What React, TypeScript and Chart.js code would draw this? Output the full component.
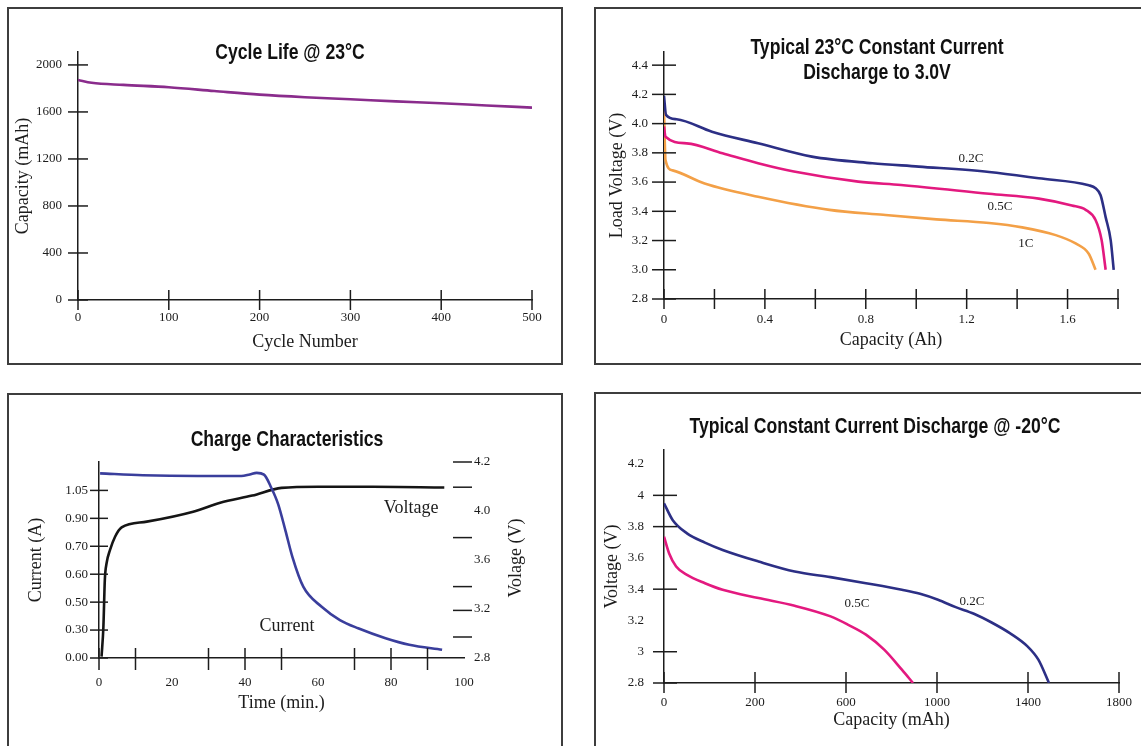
import React, { useEffect, useRef } from "react";
import { Chart, registerables } from "chart.js";

Chart.register(...registerables);

// ---------------- data ----------------
// Panel 1: Cycle life @ 23°C
const cycleNumber = [0, 15, 50, 100, 150, 200, 250, 300, 350, 400, 450, 500];
const cycleCapacity = [1872, 1848, 1830, 1810, 1778, 1747, 1725, 1708, 1690, 1674, 1655, 1637];
const cycleYTicks = [0, 400, 800, 1200, 1600, 2000];
const cycleXTicks = [0, 100, 200, 300, 400, 500];

// Panel 2: Typical 23°C constant current discharge to 3.0V
const dis02CCap = [0, 0.008, 0.05, 0.19, 0.373, 0.586, 0.826, 1.01, 1.289, 1.486, 1.684, 1.711, 1.731, 1.751, 1.771, 1.783];
const dis02CVolt = [4.19, 4.06, 4.03, 3.945, 3.865, 3.774, 3.729, 3.706, 3.669, 3.626, 3.578, 3.558, 3.51, 3.36, 3.203, 3.0];
const dis05CCap = [0, 0.006, 0.09, 0.232, 0.373, 0.515, 0.77, 0.94, 1.289, 1.486, 1.617, 1.672, 1.711, 1.735, 1.751];
const dis05CVolt = [3.98, 3.91, 3.865, 3.797, 3.729, 3.672, 3.603, 3.58, 3.52, 3.487, 3.44, 3.41, 3.34, 3.203, 3.0];
const dis1CCap = [0, 0.006, 0.034, 0.161, 0.373, 0.656, 0.869, 1.08, 1.289, 1.42, 1.553, 1.632, 1.684, 1.711];
const dis1CVolt = [4.09, 3.75, 3.68, 3.59, 3.5, 3.41, 3.376, 3.345, 3.32, 3.29, 3.237, 3.18, 3.11, 3.0];
const disYTicks = [2.8, 3.0, 3.2, 3.4, 3.6, 3.8, 4.0, 4.2, 4.4];
const disXLabelTicks = [0, 0.4, 0.8, 1.2, 1.6];
const disXLabels = ["0", "0.4", "0.8", "1.2", "1.6"];
const disXMarks = [0, 0.2, 0.4, 0.6, 0.8, 1.0, 1.2, 1.4, 1.6, 1.8];

// Panel 3: Charge characteristics
const chargeTimeCurrent = [0.3, 12, 27, 39, 41.3, 43.2, 45.2, 47.2, 49.1, 51.1, 53, 56, 61, 66, 71, 78.5, 85, 94];
const chargeCurrent = [1.157, 1.145, 1.14, 1.14, 1.15, 1.16, 1.149, 1.067, 0.963, 0.797, 0.632, 0.445, 0.321, 0.238, 0.186, 0.124, 0.083, 0.052];
const chargeTimeVoltage = [0.7, 1.2, 1.6, 2.1, 3.0, 4.4, 6.2, 13.1, 25.8, 33.2, 42, 50, 60, 75, 94.6];
const chargeVoltage = [2.81, 3.02, 3.36, 3.48, 3.57, 3.666, 3.733, 3.774, 3.845, 3.909, 3.96, 4.015, 4.023, 4.023, 4.018];
const chargeCurrentTickPos = [0, 0.175, 0.35, 0.525, 0.7, 0.875, 1.05];
const chargeCurrentTickLabels = ["0.00", "0.30", "0.50", "0.60", "0.70", "0.90", "1.05"];
const chargeVoltTickPos = [2.8, 3.15, 3.5, 3.85, 4.2];
const chargeVoltTickLabels = ["2.8", "3.2", "3.6", "4.0", "4.2"];
const chargeVoltDashes = [2.95, 3.14, 3.31, 3.66, 4.02, 4.2];
const chargeTimeLabelTicks = [0, 20, 40, 60, 80, 100];
const chargeTimeMarks = [0, 10, 30, 40, 50, 70, 80, 90];

// Panel 4: Typical constant current discharge @ -20°C
const cold02CCap = [0, 34, 91, 162, 232, 374, 517, 659, 799, 941, 1013, 1084, 1154, 1226, 1296, 1368, 1438, 1481, 1523];
const cold02CVolt = [3.949, 3.843, 3.757, 3.698, 3.651, 3.577, 3.513, 3.477, 3.438, 3.396, 3.37, 3.332, 3.285, 3.243, 3.187, 3.119, 3.034, 2.949, 2.8];
const cold05CCap = [0, 20, 48, 91, 162, 232, 374, 517, 659, 729, 799, 871, 941, 985];
const cold05CVolt = [3.736, 3.63, 3.545, 3.491, 3.438, 3.396, 3.343, 3.294, 3.226, 3.172, 3.109, 3.013, 2.885, 2.8];
const coldXTickPos = [0, 360, 720, 1080, 1440, 1800];
const coldXTickLabels = ["0", "200", "600", "1000", "1400", "1800"];
const coldYTicks = [2.8, 3.0, 3.2, 3.4, 3.6, 3.8, 4.0, 4.2];
const coldYMarks = [2.8, 3.0, 3.4, 3.8, 4.0];

// ---------------- styling ----------------
const SERIF = "'Liberation Serif', 'Times New Roman', serif";
const SANS = "'Liberation Sans', Arial, sans-serif";
const INK = "#1c1c1c";
const NAVY = "#2c2f85";
const MAGENTA = "#e3197f";
const ORANGE = "#f3a047";
const PURPLE = "#8a2c8c";
const BLUE = "#3a3e9c";
const BLACK = "#151515";

type Panel = { x: number; y: number; w: number; h: number };
type Area = { left: number; top: number; right: number; bottom: number };
type Mark = { scale: string; values: number[]; inner: number; outer: number };
type Note = { text: string; x: number; y: number; yScale?: string; size: number };
type Decor = {
  panel: Panel;
  title: string[];
  titleX: number;
  titleY: number;
  titleGap: number;
  titleSize: number;
  marks: Mark[];
  notes: Note[];
  sideTitle?: { text: string; x: number; y: number };
};

const xy = (xs: number[], ys: number[]) => xs.map((x, i) => ({ x, y: ys[i] }));

function lineDs(label: string, xs: number[], ys: number[], color: string, yAxisID = "y") {
  return {
    label,
    data: xy(xs, ys),
    borderColor: color,
    backgroundColor: color,
    borderWidth: 2.6,
    pointRadius: 0,
    cubicInterpolationMode: "monotone",
    fill: false,
    yAxisID,
  };
}

function decorPlugin(d: Decor) {
  return {
    id: "decor",
    afterDraw(chart: any) {
      const { ctx, chartArea: a } = chart;
      ctx.save();
      ctx.strokeStyle = INK;
      ctx.lineWidth = 1.5;
      for (const m of d.marks) {
        const s = chart.scales[m.scale];
        for (const v of m.values) {
          const p = s.getPixelForValue(v);
          ctx.beginPath();
          if (s.isHorizontal()) {
            ctx.moveTo(p, a.bottom - m.inner);
            ctx.lineTo(p, a.bottom + m.outer);
          } else if (s.position === "left") {
            ctx.moveTo(a.left - m.outer, p);
            ctx.lineTo(a.left + m.inner, p);
          } else {
            ctx.moveTo(a.right - m.inner, p);
            ctx.lineTo(a.right + m.outer, p);
          }
          ctx.stroke();
        }
      }
      ctx.fillStyle = INK;
      ctx.textAlign = "center";
      ctx.textBaseline = "middle";
      for (const n of d.notes) {
        const xs = chart.scales.x;
        const ys = chart.scales[n.yScale || "y"];
        ctx.font = `${n.size}px ${SERIF}`;
        ctx.fillText(n.text, xs.getPixelForValue(n.x), ys.getPixelForValue(n.y));
      }
      ctx.fillStyle = "#111";
      ctx.font = `bold ${d.titleSize}px ${SANS}`;
      d.title.forEach((line, i) => {
        ctx.save();
        ctx.translate(d.titleX - d.panel.x, d.titleY - d.panel.y + i * d.titleGap);
        ctx.scale(0.8, 1);
        ctx.fillText(line, 0, 0);
        ctx.restore();
      });
      if (d.sideTitle) {
        ctx.save();
        ctx.fillStyle = INK;
        ctx.font = `18px ${SERIF}`;
        ctx.translate(d.sideTitle.x - d.panel.x, d.sideTitle.y - d.panel.y);
        ctx.rotate(-Math.PI / 2);
        ctx.fillText(d.sideTitle.text, 0, 0);
        ctx.restore();
      }
      ctx.restore();
    },
  };
}

function vAxis(
  p: Panel,
  a: Area,
  o: {
    position: "left" | "right";
    width: number;
    min: number;
    max: number;
    ticks: number[];
    labels: string[];
    pad: number;
    border: boolean;
    title?: string;
    titleCenterX?: number;
  }
) {
  return {
    type: "linear",
    position: o.position,
    min: o.min,
    max: o.max,
    afterBuildTicks: (s: any) => {
      s.ticks = o.ticks.map((v) => ({ value: v }));
    },
    afterFit: (s: any) => {
      s.width = o.width;
    },
    grid: { display: false, drawTicks: false },
    border: { display: o.border, color: INK, width: 1.5 },
    ticks: {
      autoSkip: false,
      padding: o.pad,
      color: INK,
      font: { family: SERIF, size: 13 },
      callback: (_v: any, i: number) => o.labels[i],
    },
    title: o.title
      ? {
          display: true,
          text: o.title,
          color: INK,
          font: { family: SERIF, size: 18 },
          padding: { top: (o.titleCenterX as number) - p.x - 10.8, bottom: 0 },
        }
      : { display: false },
  };
}

function hAxis(
  p: Panel,
  a: Area,
  o: {
    min: number;
    max: number;
    ticks: number[];
    labels: string[];
    labelCenterY: number;
    title: string;
    titleCenterY: number;
  }
) {
  return {
    type: "linear",
    position: "bottom",
    min: o.min,
    max: o.max,
    afterBuildTicks: (s: any) => {
      s.ticks = o.ticks.map((v) => ({ value: v }));
    },
    afterFit: (s: any) => {
      s.height = p.y + p.h - a.bottom;
    },
    grid: { display: false, drawTicks: false },
    border: { display: true, color: INK, width: 1.5 },
    ticks: {
      autoSkip: false,
      maxRotation: 0,
      minRotation: 0,
      padding: o.labelCenterY - a.bottom - 7.8,
      color: INK,
      font: { family: SERIF, size: 13 },
      callback: (_v: any, i: number) => o.labels[i],
    },
    title: {
      display: true,
      text: o.title,
      color: INK,
      font: { family: SERIF, size: 18 },
      padding: { top: 0, bottom: p.y + p.h - o.titleCenterY - 10.8 },
    },
  };
}

function baseOptions(p: Panel, a: Area, rightAxisWidth: number, scales: any) {
  return {
    responsive: false,
    animation: false,
    devicePixelRatio: 1,
    events: [],
    layout: {
      padding: { top: a.top - p.y, left: 0, bottom: 0, right: p.x + p.w - a.right - rightAxisWidth },
    },
    plugins: { legend: { display: false }, tooltip: { enabled: false }, title: { display: false } },
    scales,
  };
}

// ---------------- panel configs ----------------
function cycleConfig(p: Panel) {
  const a: Area = { left: 78, top: 52, right: 532, bottom: 300 };
  return {
    type: "line",
    data: { datasets: [lineDs("Capacity", cycleNumber, cycleCapacity, PURPLE)] },
    options: baseOptions(p, a, 0, {
      x: hAxis(p, a, {
        min: 0, max: 500, ticks: cycleXTicks, labels: cycleXTicks.map(String),
        labelCenterY: 318, title: "Cycle Number", titleCenterY: 342,
      }),
      y: vAxis(p, a, {
        position: "left", width: a.left - p.x, min: 0, max: 2110, ticks: cycleYTicks,
        labels: cycleYTicks.map(String), pad: 16, border: true, title: "Capacity (mAh)", titleCenterX: 23,
      }),
    }),
    plugins: [
      decorPlugin({
        panel: p, title: ["Cycle Life @ 23°C"], titleX: 290, titleY: 53, titleGap: 0, titleSize: 22,
        marks: [
          { scale: "y", values: cycleYTicks, inner: 10, outer: 10 },
          { scale: "x", values: cycleXTicks, inner: 10, outer: 10 },
        ],
        notes: [],
      }),
    ],
  };
}

function discharge23Config(p: Panel) {
  const a: Area = { left: 664, top: 52, right: 1118, bottom: 299 };
  return {
    type: "line",
    data: {
      datasets: [
        lineDs("0.2C", dis02CCap, dis02CVolt, NAVY),
        lineDs("0.5C", dis05CCap, dis05CVolt, MAGENTA),
        lineDs("1C", dis1CCap, dis1CVolt, ORANGE),
      ],
    },
    options: baseOptions(p, a, 0, {
      x: hAxis(p, a, {
        min: 0, max: 1.8, ticks: disXLabelTicks, labels: disXLabels,
        labelCenterY: 320, title: "Capacity (Ah)", titleCenterY: 340,
      }),
      y: vAxis(p, a, {
        position: "left", width: a.left - p.x, min: 2.8, max: 4.49, ticks: disYTicks,
        labels: disYTicks.map((v) => v.toFixed(1)), pad: 16, border: true,
        title: "Load Voltage (V)", titleCenterX: 617.5,
      }),
    }),
    plugins: [
      decorPlugin({
        panel: p, title: ["Typical 23°C Constant Current", "Discharge to 3.0V"],
        titleX: 877, titleY: 48, titleGap: 25, titleSize: 22,
        marks: [
          { scale: "y", values: disYTicks, inner: 12, outer: 12 },
          { scale: "x", values: disXMarks, inner: 10, outer: 10 },
        ],
        notes: [
          { text: "0.2C", x: 1.217, y: 3.764, size: 13 },
          { text: "0.5C", x: 1.332, y: 3.429, size: 13 },
          { text: "1C", x: 1.435, y: 3.176, size: 13 },
        ],
      }),
    ],
  };
}

function chargeConfig(p: Panel) {
  const a: Area = { left: 99, top: 462, right: 464, bottom: 658 };
  const rightW = p.x + p.w - a.right;
  return {
    type: "line",
    data: {
      datasets: [
        lineDs("Current", chargeTimeCurrent, chargeCurrent, BLUE, "y"),
        lineDs("Voltage", chargeTimeVoltage, chargeVoltage, BLACK, "yV"),
      ],
    },
    options: baseOptions(p, a, rightW, {
      x: hAxis(p, a, {
        min: 0, max: 100, ticks: chargeTimeLabelTicks, labels: chargeTimeLabelTicks.map(String),
        labelCenterY: 683, title: "Time (min.)", titleCenterY: 703,
      }),
      y: vAxis(p, a, {
        position: "left", width: a.left - p.x, min: 0, max: 1.228, ticks: chargeCurrentTickPos,
        labels: chargeCurrentTickLabels, pad: 11, border: true, title: "Current (A)", titleCenterX: 36,
      }),
      yV: vAxis(p, a, {
        position: "right", width: rightW, min: 2.8, max: 4.2, ticks: chargeVoltTickPos,
        labels: chargeVoltTickLabels, pad: 10, border: false,
      }),
    }),
    plugins: [
      decorPlugin({
        panel: p, title: ["Charge Characteristics"], titleX: 287, titleY: 440, titleGap: 0, titleSize: 22,
        marks: [
          { scale: "y", values: chargeCurrentTickPos, inner: 9, outer: 9 },
          { scale: "x", values: chargeTimeMarks, inner: 10, outer: 12 },
          { scale: "yV", values: chargeVoltDashes, inner: 11, outer: 8 },
        ],
        notes: [
          { text: "Voltage", x: 85.5, y: 3.871, yScale: "yV", size: 18 },
          { text: "Current", x: 51.5, y: 0.2, yScale: "y", size: 18 },
        ],
        sideTitle: { text: "Volage (V)", x: 516, y: 558 },
      }),
    ],
  };
}

function coldConfig(p: Panel) {
  const a: Area = { left: 664, top: 450, right: 1119, bottom: 683 };
  return {
    type: "line",
    data: {
      datasets: [
        lineDs("0.2C", cold02CCap, cold02CVolt, NAVY),
        lineDs("0.5C", cold05CCap, cold05CVolt, MAGENTA),
      ],
    },
    options: baseOptions(p, a, 0, {
      x: hAxis(p, a, {
        min: 0, max: 1800, ticks: coldXTickPos, labels: coldXTickLabels,
        labelCenterY: 703, title: "Capacity (mAh)", titleCenterY: 720,
      }),
      y: vAxis(p, a, {
        position: "left", width: a.left - p.x, min: 2.8, max: 4.29, ticks: coldYTicks,
        labels: coldYTicks.map((v) => String(Number(v.toFixed(1)))), pad: 20, border: true,
        title: "Voltage (V)", titleCenterX: 612,
      }),
    }),
    plugins: [
      decorPlugin({
        panel: p, title: ["Typical Constant Current Discharge @ -20°C"],
        titleX: 875, titleY: 427, titleGap: 0, titleSize: 22,
        marks: [
          { scale: "y", values: coldYMarks, inner: 13, outer: 11 },
          { scale: "x", values: coldXTickPos, inner: 11, outer: 10 },
        ],
        notes: [
          { text: "0.5C", x: 763, y: 3.305, size: 13 },
          { text: "0.2C", x: 1218, y: 3.318, size: 13 },
        ],
      }),
    ],
  };
}

// ---------------- components ----------------
function ChartPanel({ panel, make }: { panel: Panel; make: (p: Panel) => any }) {
  const ref = useRef<HTMLCanvasElement>(null);
  useEffect(() => {
    if (!ref.current) return;
    const chart = new Chart(ref.current, make(panel));
    return () => chart.destroy();
  }, []);
  return (
    <>
      <canvas
        ref={ref}
        width={panel.w}
        height={panel.h}
        style={{ position: "absolute", left: panel.x, top: panel.y, width: panel.w, height: panel.h }}
      />
      <div
        style={{
          position: "absolute",
          left: panel.x,
          top: panel.y,
          width: panel.w,
          height: panel.h,
          boxSizing: "border-box",
          border: "2px solid #3d3d3d",
          pointerEvents: "none",
        }}
      />
    </>
  );
}

const P1: Panel = { x: 7, y: 7, w: 556, h: 358 };
const P2: Panel = { x: 594, y: 7, w: 560, h: 358 };
const P3: Panel = { x: 7, y: 393, w: 556, h: 370 };
const P4: Panel = { x: 594, y: 392, w: 560, h: 370 };

export default function App() {
  return (
    <div
      style={{
        position: "absolute",
        left: 0,
        top: 0,
        width: 1141,
        height: 746,
        overflow: "hidden",
        background: "#ffffff",
      }}
    >
      <ChartPanel panel={P1} make={cycleConfig} />
      <ChartPanel panel={P2} make={discharge23Config} />
      <ChartPanel panel={P3} make={chargeConfig} />
      <ChartPanel panel={P4} make={coldConfig} />
    </div>
  );
}
